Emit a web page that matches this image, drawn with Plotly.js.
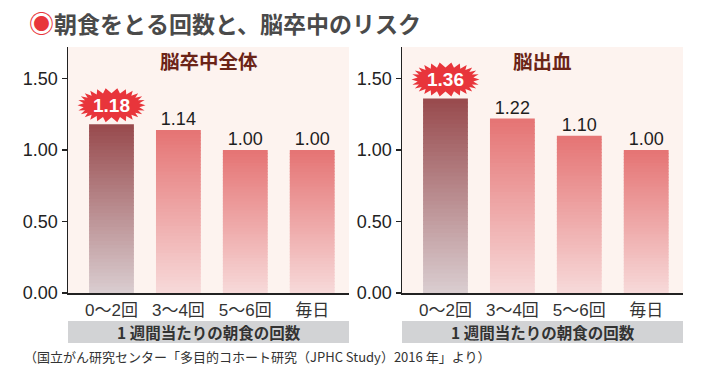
<!DOCTYPE html>
<html><head><meta charset="utf-8">
<script src="https://cdn.plot.ly/plotly-3.0.1.min.js"></script>
<style>html,body{margin:0;padding:0;background:#fff}#c{width:712px;height:379px}</style>
</head><body><div id="c"></div>
<script>
// ---- data ----
const categories = ['0〜2回', '3〜4回', '5〜6回', '毎日'];
const strokeAll = [1.18, 1.14, 1.00, 1.00];
const hemorrhage = [1.36, 1.22, 1.10, 1.00];
const yTickVals = [0, 0.5, 1.0, 1.5];
const yTickText = ['0.00', '0.50', '1.00', '1.50'];
const panelTitles = ['脳卒中全体', '脳出血'];
const xTitleText = '1 週間当たりの朝食の回数';
const mainTitle = '朝食をとる回数と、脳卒中のリスク';
const sourceText = '（国立がん研究センター「多目的コホート研究（JPHC Study）2016 年」より）';
const highlightIndex = 0;

// ---- style ----
const W = 712, H = 379;
const px = v => v / W, py = v => 1 - v / H;
const JP = 'Noto Sans CJK JP, Noto Sans, sans-serif';
const NUM = 'Liberation Sans, Arial, Noto Sans CJK JP, sans-serif';
const panels = [
  {values: strokeAll, xa: 'x', ya: 'y', dom: [px(68), px(349)]},
  {values: hemorrhage, xa: 'x2', ya: 'y2', dom: [px(402), px(683)]}
];
const yDom = [py(293), py(47)];
const N = 48;
const EPS = 0.006;
const hiTop = [152, 74, 77], hiBot = [218, 206, 209];
const nTop = [229, 116, 116], nBot = [247, 218, 218];
const mix = (a, b, t) => 'rgb(' + a.map((v, i) => Math.round(v + (b[i] - v) * t)).join(',') + ')';

const traces = [];
const shapes = [];
const annotations = [];

function starPath() {
  const spikes = 26, pts = [];
  const p = 2.4;
  for (let i = 0; i < spikes * 2; i++) {
    const a = i * Math.PI / spikes;
    const c = Math.cos(a), s = Math.sin(a);
    const outer = i % 2 === 0;
    const rx = outer ? 34 : 28, ry = outer ? 17 : 12;
    const x = rx * Math.sign(c) * Math.pow(Math.abs(c), 2 / p);
    const y = 19 + ry * Math.sign(s) * Math.pow(Math.abs(s), 2 / p);
    pts.push(x.toFixed(2) + ',' + y.toFixed(2));
  }
  return 'M' + pts.join('L') + 'Z';
}

panels.forEach((pn, pi) => {
  for (let k = 0; k < N; k++) {
    const t = (k + 0.5) / N;
    const e = k === 0 ? 0 : EPS;
    traces.push({
      type: 'bar', x: categories, xaxis: pn.xa, yaxis: pn.ya,
      base: pn.values.map(v => v * k / N - e),
      y: pn.values.map(v => v / N + e),
      width: 0.67,
      marker: {color: pn.values.map((v, i) => i === highlightIndex ? mix(hiBot, hiTop, t) : mix(nBot, nTop, t)), line: {width: 0}},
      hoverinfo: 'skip', showlegend: false
    });
  }
  traces.push({
    type: 'scatter', mode: 'text', x: categories, y: pn.values, xaxis: pn.xa, yaxis: pn.ya,
    text: pn.values.map((v, i) => i === highlightIndex ? '' : v.toFixed(2)),
    textposition: 'top center', cliponaxis: false,
    textfont: {family: NUM, size: 18, color: '#1e1e1e'}, showlegend: false, hoverinfo: 'skip'
  });
  const xr = pn.xa, yr = pn.ya;
  shapes.push({
    type: 'path', xref: xr, yref: yr, xsizemode: 'pixel', ysizemode: 'pixel',
    xanchor: categories[highlightIndex], yanchor: pn.values[highlightIndex],
    path: starPath(), fillcolor: '#e8353b', line: {width: 0}, layer: 'above'
  });
  annotations.push({
    xref: xr, yref: yr, x: categories[highlightIndex], y: pn.values[highlightIndex],
    yshift: 19, text: '<b>' + pn.values[highlightIndex].toFixed(2) + '</b>', showarrow: false,
    font: {family: NUM, size: 19, color: '#fff'}, xanchor: 'center', yanchor: 'middle'
  });
  annotations.push({
    xref: 'paper', yref: 'paper', x: (pn.dom[0] + pn.dom[1]) / 2, y: py(61),
    text: '<b>' + panelTitles[pi] + '</b>', showarrow: false,
    font: {family: JP, size: 19.5, color: '#6b2417'}, xanchor: 'center', yanchor: 'middle'
  });
  shapes.push({
    type: 'rect', xref: 'paper', yref: 'paper', x0: pn.dom[0], x1: pn.dom[1], y0: py(343), y1: py(321),
    fillcolor: '#d2d3d5', line: {width: 0}, layer: 'below'
  });
  annotations.push({
    xref: 'paper', yref: 'paper', x: (pn.dom[0] + pn.dom[1]) / 2, y: py(332),
    text: '<b>' + xTitleText + '</b>', showarrow: false,
    font: {family: JP, size: 15.5, color: '#333'}, xanchor: 'center', yanchor: 'middle'
  });
});

annotations.push({
  xref: 'paper', yref: 'paper', x: px(27), y: py(22), xanchor: 'left', yanchor: 'middle',
  text: '<span style="color:#e8353b;font-size:25px">◉</span><b>' + mainTitle + '</b>', showarrow: false,
  font: {family: JP, size: 23, color: '#4a4a4a'}
});
annotations.push({
  xref: 'paper', yref: 'paper', x: px(22), y: py(356), xanchor: 'left', yanchor: 'middle',
  text: sourceText, showarrow: false, font: {family: JP, size: 13, color: '#333'}
});

function xAxis(dom) {
  return {domain: dom, type: 'category', range: [-0.65, 3.55], showline: true, linecolor: '#222', linewidth: 1.5,
    ticks: 'outside', ticklen: 1, tickcolor: 'rgba(0,0,0,0)', showgrid: false, zeroline: false,
    tickfont: {family: NUM, size: 17, color: '#333'}, fixedrange: true};
}
function yAxis(anchor) {
  return {domain: yDom, anchor: anchor, range: [0, 1.72], tickvals: yTickVals, ticktext: yTickText,
    showline: true, linecolor: '#222', linewidth: 1.5, ticks: 'outside', ticklen: 5, tickcolor: '#222', tickwidth: 1.2,
    showgrid: false, zeroline: false, tickfont: {family: NUM, size: 18, color: '#222'}, fixedrange: true};
}

const layout = {
  width: W, height: H, margin: {l: 0, r: 0, t: 0, b: 0},
  paper_bgcolor: '#fff', plot_bgcolor: '#fdf3ef',
  barmode: 'overlay', showlegend: false,
  xaxis: Object.assign(xAxis(panels[0].dom), {anchor: 'y'}),
  yaxis: yAxis('x'),
  xaxis2: Object.assign(xAxis(panels[1].dom), {anchor: 'y2'}),
  yaxis2: yAxis('x2'),
  shapes: shapes, annotations: annotations
};
Plotly.newPlot('c', traces, layout, {staticPlot: true, displayModeBar: false});
</script></body></html>
